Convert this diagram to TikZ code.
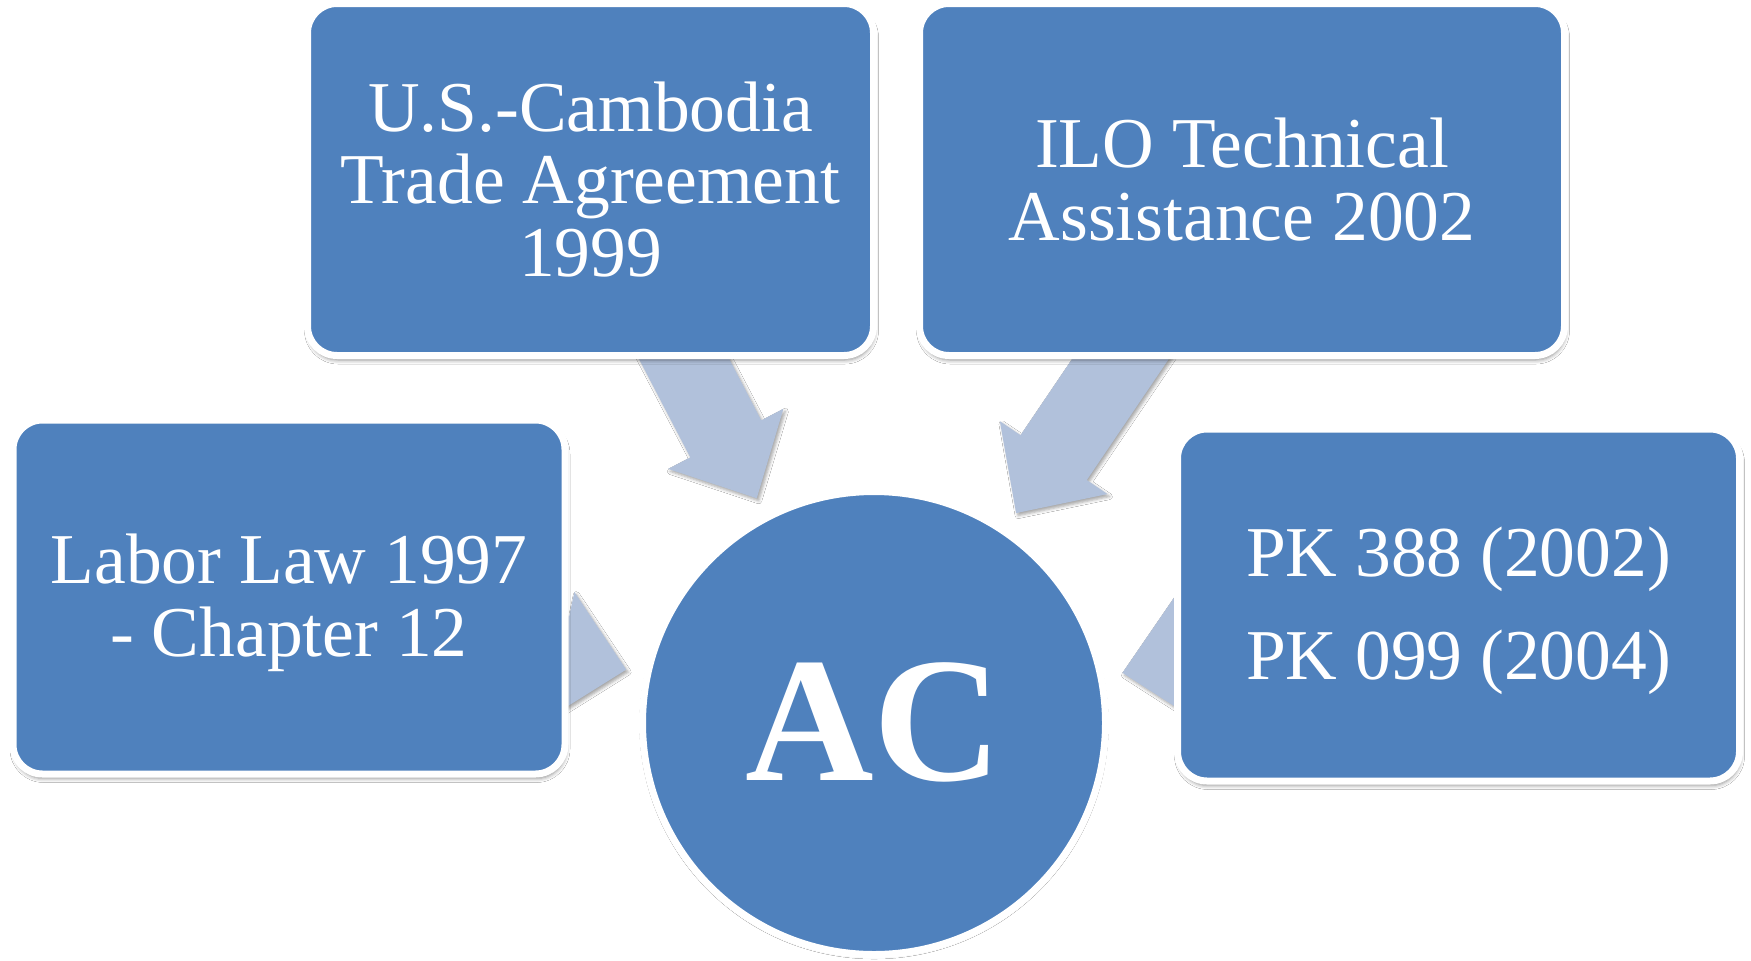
\documentclass[tikz,border=0pt]{standalone}
\usepackage{fontspec}
\setmainfont{Liberation Serif}
\usetikzlibrary{calc,backgrounds,shadows.blur}
\definecolor{boxblue}{RGB}{79,129,189}
\definecolor{arrowblue}{RGB}{177,193,219}
\tikzset{
  box/.style={draw=white, line width=7pt, fill=boxblue, rounded corners=29.5pt,
    inner sep=0pt, align=center, text=white,
    font=\fontsize{71.5}{72.6}\selectfont,
    blur shadow={shadow xshift=1pt, shadow yshift=-4.5pt, shadow blur radius=4pt, shadow opacity=45}},
  hub/.style={circle, draw=white, line width=7pt, fill=boxblue, inner sep=0pt,
    minimum size=463pt, text=white, font=\bfseries\fontsize{178}{180}\selectfont,
    blur shadow={shadow xshift=0pt, shadow yshift=-1.5pt, shadow blur radius=3pt, shadow opacity=20}},
  blockarrow/.style={fill=arrowblue, draw=none,
    blur shadow={shadow xshift=2pt, shadow yshift=-2.5pt, shadow blur radius=3pt, shadow opacity=35}}
}
\begin{document}
\begin{tikzpicture}[x=1pt,y=-1pt]
\useasboundingbox (0,0) rectangle (1751,961);
\node[box, minimum width=566pt, minimum height=352pt] (b1) at (590.5,179.5)
  {U.S.-Cambodia\\Trade Agreement\\1999};
\node[box, minimum width=645pt, minimum height=352pt] (b2) at (1242,179.5)
  {ILO Technical\\Assistance 2002};
\node[box, minimum width=552pt, minimum height=354pt] (b3) at (289,597)
  {\rule{0pt}{61pt}Labor Law 1997\\- Chapter 12};
\node[box, minimum width=562pt, minimum height=352pt] (b4) at (1458.5,605)
  {\rule{0pt}{61pt}PK 388 (2002)\\[31pt]PK 099 (2004)};
\node[hub] (hub) at (874,723) {\raisebox{3pt}{AC}};
\begin{pgfonlayer}{background}
  \fill[white] (0,0) rectangle (1751,961);
  \foreach \b in {b1,b2,b3,b4}{
    \coordinate (T\b) at ($(hub.center)!253.5pt!(\b.center)$);
    \coordinate (H\b) at ($(hub.center)!320.5pt!(\b.center)$);
    \fill[blockarrow] ($(\b.center)!40pt!90:(hub.center)$)
      -- ($(H\b)!40pt!90:(hub.center)$)
      -- ($(H\b)!65pt!90:(hub.center)$)
      -- (T\b)
      -- ($(H\b)!65pt!-90:(hub.center)$)
      -- ($(H\b)!40pt!-90:(hub.center)$)
      -- ($(\b.center)!40pt!-90:(hub.center)$) -- cycle;
  }
\end{pgfonlayer}
\end{tikzpicture}
\end{document}
